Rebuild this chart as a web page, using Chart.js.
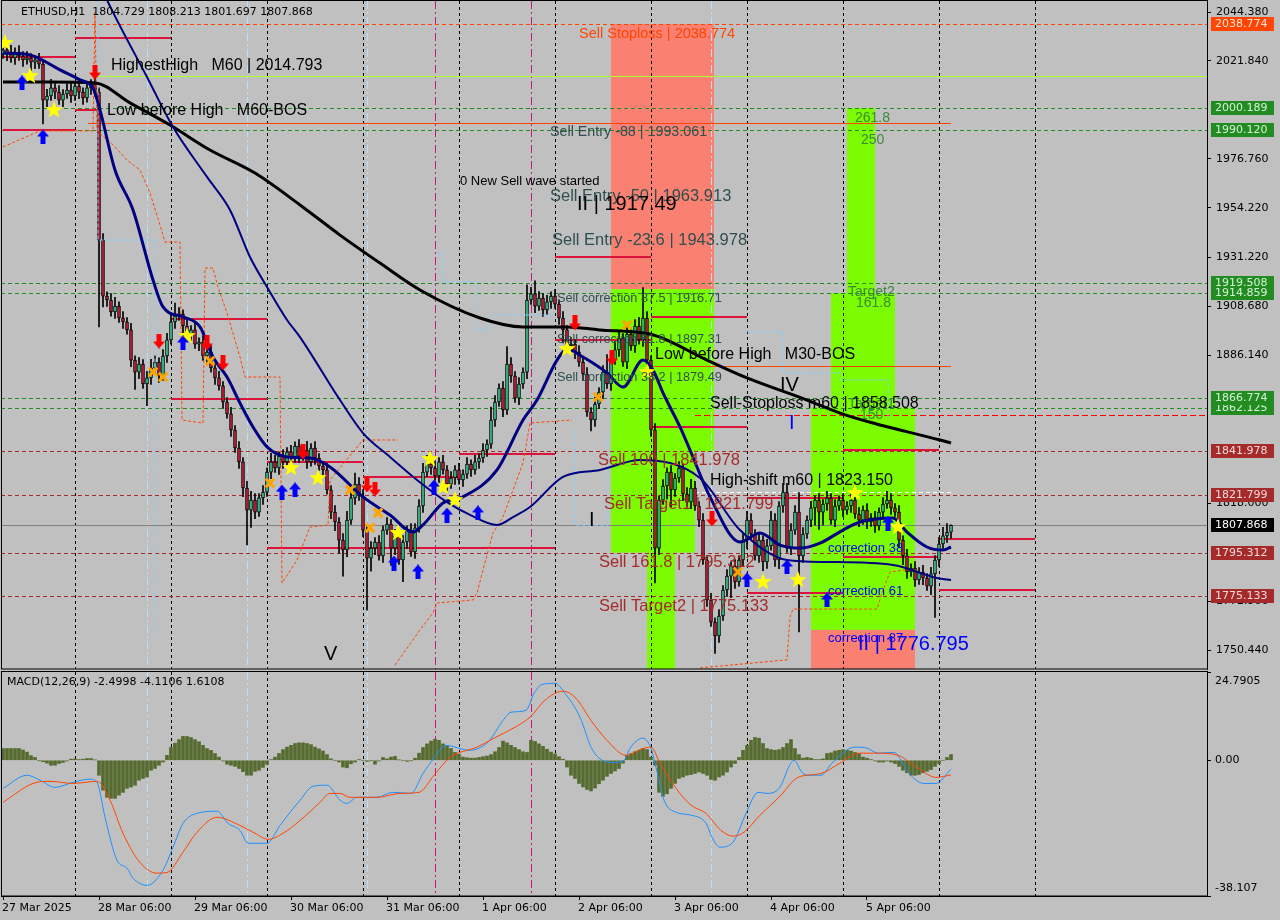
<!DOCTYPE html>
<html lang="en">
<head>
<meta charset="UTF-8">
<title>ETHUSD,H1</title>
<script src="https://cdn.jsdelivr.net/npm/chart.js"></script>
<style>
  html, body { margin: 0; padding: 0; background: #c0c0c0; }
  #wrap { position: relative; width: 1280px; height: 920px; overflow: hidden; }
  #priceBox { position: absolute; left: 0; top: 0; width: 1280px; height: 670px; }
  #macdBox { position: absolute; left: 0; top: 670px; width: 1280px; height: 250px; }
</style>
</head>
<body>
<div id="wrap">
  <div id="priceBox"><canvas id="priceChart" width="1280" height="670"></canvas></div>
  <div id="macdBox"><canvas id="macdChart" width="1280" height="250"></canvas></div>
</div>
<script>
// ---- data (H1 bars, index 0 = 27 Mar 2025 06:00) ----
const firstOpen = 2025.0;
const closes = [
  2026.9, 2025.0, 2023.2, 2025.9, 2024.1, 2022.3, 2023.2, 2021.3, 2022.3, 2020.4,
  2003.8, 2005.7, 2009.4, 2007.5, 2003.8, 2006.6, 2008.4, 2005.7, 2010.3, 2007.5,
  2004.8, 2009.4, 2011.2, 2007.5, 1939.3, 1913.5, 1911.7, 1906.2, 1908.9, 1903.4,
  1901.6, 1897.9, 1884.0, 1878.5, 1882.2, 1873.0, 1875.8, 1880.4, 1883.1, 1876.7,
  1885.9, 1893.3, 1901.6, 1904.3, 1905.2, 1899.7, 1896.0, 1897.9, 1891.4, 1892.3,
  1885.9, 1887.7, 1880.4, 1875.8, 1872.1, 1864.7, 1859.2, 1851.8, 1843.5, 1837.1,
  1825.1, 1814.9, 1819.5, 1814.0, 1820.5, 1823.2, 1832.4, 1837.1, 1834.3, 1839.8,
  1837.1, 1841.7, 1838.9, 1844.4, 1839.8, 1842.6, 1837.1, 1843.5, 1838.9, 1835.2,
  1833.4, 1824.2, 1814.0, 1809.4, 1801.1, 1796.5, 1810.3, 1820.5, 1826.9, 1821.4,
  1805.7, 1792.8, 1797.4, 1800.2, 1793.8, 1805.7, 1808.5, 1797.4, 1803.0, 1791.9,
  1800.2, 1805.7, 1795.6, 1806.7, 1816.8, 1832.4, 1836.1, 1834.3, 1830.6, 1837.1,
  1833.4, 1826.9, 1829.7, 1833.4, 1828.8, 1831.5, 1836.1, 1833.4, 1837.1, 1838.9,
  1842.6, 1845.3, 1856.4, 1864.7, 1871.1, 1861.0, 1882.2, 1876.7, 1866.5, 1873.0,
  1878.5, 1911.7, 1914.5, 1908.9, 1912.6, 1907.1, 1910.8, 1913.5, 1909.8, 1903.4,
  1897.9, 1890.5, 1891.4, 1887.7, 1883.1, 1877.6, 1860.1, 1856.4, 1863.8, 1869.3,
  1878.5, 1873.0, 1884.0, 1888.7, 1894.2, 1883.1, 1896.0, 1890.5, 1899.7, 1893.3,
  1903.4, 1884.0, 1851.8, 1797.4, 1819.5, 1826.0, 1832.4, 1824.2, 1829.7, 1834.3,
  1822.3, 1818.6, 1825.1, 1816.8, 1810.3, 1791.9, 1773.5, 1763.3, 1756.9, 1766.1,
  1778.1, 1784.5, 1789.1, 1781.8, 1791.9, 1801.1, 1810.3, 1803.9, 1793.8, 1801.1,
  1791.0, 1798.4, 1810.3, 1791.9, 1816.8, 1823.2, 1797.4, 1805.7, 1814.0, 1793.8,
  1803.9, 1810.3, 1815.9, 1819.5, 1814.0, 1817.7, 1820.5, 1810.3, 1816.8, 1819.5,
  1814.9, 1816.8, 1819.5, 1813.1, 1810.3, 1814.9, 1809.4, 1811.3, 1807.6, 1814.0,
  1817.7, 1819.5, 1815.9, 1814.0, 1801.1, 1793.8, 1786.4, 1788.2, 1782.7, 1786.4,
  1783.6, 1779.9, 1785.5, 1791.9, 1799.3, 1803.0, 1804.7, 1807.868
];
// wick length above / below the body, USD
const wickUp = [
  3,2,4,2,3,2,3,2,2,3, 2,3,4,2,3,2,3,4,2,3, 2,3,2,3,2,3,2,3,4,2, 3,2,3,2,3,2,3,4,3,2,
  3,3,4,6,3,2,3,2,3,2, 3,2,3,2,3,2,2,3,2,3, 2,3,4,3,2,3,2,4,3,2, 3,2,3,2,3,2,4,2,3,2,
  2,3,2,3,2,3,4,3,5,3, 3,2,3,2,3,2,3,2,3,2, 3,2,3,2,3,4,4,4,3,2, 3,2,3,2,3,2,3,2,3,2,
  3,2,6,3,2,3,8,3,2,3, 2,7,3,6,3,2,3,2,3,2, 3,2,3,2,3,2,3,2,3,2, 3,8,3,4,3,2,3,2,3,4,
  14,3,2,3,2,3,2,3,2,3, 2,3,4,3,2,3,2,3,2,3, 2,3,2,3,2,3,4,3,2,3, 2,3,4,3,2,4,4,3,3,9,
  3,2,3,2,3,2,3,2,3,2, 3,2,3,2,3,2,3,2,3,2, 3,4,3,2,3,2,3,2,3,2, 3,2,3,2,3,4,4,0.3
];
const wickDn = [
  2,3,2,3,2,3,2,4,3,2, 11,3,2,3,2,3,2,3,2,3, 3,2,3,2,40,5,3,2,3,2, 3,2,3,8,3,2,10,3,2,3,
  2,3,2,3,2,3,2,3,2,3, 2,3,2,3,2,3,2,3,2,3, 4,16,8,3,2,3,2,3,2,3, 3,2,3,2,3,2,3,2,3,2,
  3,2,3,4,6,12,3,2,3,2, 3,24,6,3,2,3,2,8,3,2, 10,3,2,3,2,3,2,3,2,3, 2,3,2,3,2,3,2,3,2,3,
  2,3,2,3,2,3,2,3,2,3, 2,3,2,3,2,3,2,3,2,3, 6,3,2,3,2,3,2,5,3,2, 3,2,3,2,3,2,3,2,3,2,
  3,2,3,16,3,2,6,8,3,2, 3,2,3,2,3,2,3,2,8,3, 2,3,10,3,2,3,4,3,2,3, 4,3,2,3,4,3,2,3,2,35,
  3,2,3,8,8,6,3,2,3,2, 3,2,3,2,3,2,3,2,3,2, 3,2,3,2,3,4,3,2,3,2, 3,2,4,20,3,2,3,3.0
];

// moving averages: [bar index, price]
const slowMa = [[0,2012.1],[11.75,2012.1],[23,2011.7],[31.75,2002.5],[41.75,1992.3],[51.75,1980.8],[63,1970.2],
  [74.25,1955.5],[84.25,1941.6],[94.25,1928.7],[104.25,1916.3],[119.25,1903.4],[130,1899.3],[141,1899.3],
  [149.25,1897.9],[161.75,1896.0],[176,1884.0],[186,1875.8],[201,1865.6],[209.25,1859.6],[217.5,1855.0],
  [234.25,1847.2],[237,1845.8]];
const fastMa = [[0,2025.5],[6.75,2024.6],[14.25,2017.7],[19.25,2013.1],[22.5,2009.4],[24.25,1999.2],[28,1971.6],
  [32.5,1953.2],[37.5,1920.9],[40,1908.5],[45,1903.9],[49.25,1899.3],[52.5,1885.4],[56,1876.2],[59.25,1864.2],
  [62.5,1853.2],[66,1844.0],[71,1839.4],[76.75,1838.9],[81.75,1834.8],[90,1821.0],[96.75,1812.6],[102.5,1804.8],
  [105,1808.1],[110,1818.2],[115,1821.0],[123.5,1833.4],[130,1856.4],[133.5,1865.6],[138.5,1884.0],[141,1889.1],
  [145,1885.4],[151,1878.1],[155,1871.6],[160,1884.0],[162.5,1879.4],[165,1868.9],[169.25,1853.2],[171.75,1842.6],
  [176.75,1821.0],[184.25,1800.2],[189.25,1804.4],[194.25,1798.8],[199.25,1797.4],[204.25,1799.7],[210,1805.7],
  [214.25,1809.4],[222.5,1811.3],[226,1804.8],[231,1797.9],[235,1796.5],[237,1797.9]];
const midMa = [[20,2075.0],[26,2049.9],[36,2014.4],[42.5,1991.4],[51,1968.4],[56.75,1953.2],[61.75,1931.5],
  [66,1917.7],[71,1902.5],[74.25,1894.6],[84.25,1865.6],[90,1850.4],[96.75,1839.4],[103.5,1828.8],[111,1818.6],
  [116.75,1812.7],[123.5,1808.0],[127.5,1811.7],[131.75,1816.3],[140,1830.2],[149.25,1833.4],[159.25,1838.0],
  [174.25,1829.7],[184.25,1805.7],[196,1791.9],[206,1791.0],[222.5,1789.6],[233.5,1783.6],[237,1782.7]];

// stepped trailing bands (dashed): [bar index, price]
const bandUpper = [[0,1982.2],[9.25,1989.6],[22.5,1989.6],[23,2044.4],[23.5,1989.6],[27.5,1983.1],[31,1976.2],
  [34.25,1971.6],[36.75,1961.0],[39.25,1946.2],[40.5,1938.4],[44.25,1938.4],[44.75,1856.4],[50,1855.0],
  [50.5,1926.4],[52.5,1926.4],[53.75,1917.7],[56,1905.7],[59.25,1885.4],[60.5,1876.2],[69.25,1876.2],
  [69.75,1781.3],[73.5,1791.9],[76.75,1807.1],[81.25,1808.0],[81.75,1828.8],[90,1847.2],[98.75,1847.2]];
const bandLower = [[98,1743.5],[104.25,1759.7],[107.5,1767.5],[108.5,1772.1],[117.5,1773.5],[118.5,1776.7],
  [120,1787.3],[122.5,1804.4],[125,1811.7],[130,1836.6],[131.75,1855.0],[142.25,1856.4]];
const bandLate = [[174.25,1742.2],[196,1745.9],[196.75,1765.7],[197.5,1769.3],[218.5,1769.3],[219.75,1776.7],
  [221.75,1786.4],[225.5,1787.3]];
const boxTrailA = [[23.75,2052],[23.75,1939.3],[38,1939.3],[38,1755.1]];
const boxTrailB = [[108.5,1933.3],[110,1933.3],[110,1920.0],[118.5,1920.0],[118.5,1897.9],[121.75,1897.9],
  [121.75,1904.8],[137.5,1904.8]];
const boxTrailC = [[186,1897.0],[195,1897.0],[195,1878.1],[209.25,1878.1],[209.25,1874.8],[221.25,1874.8],[221.25,1856.4]];
const boxTrailD = [[143,1851.8],[143,1808.0],[151.25,1808.0],[151.25,1851.8]];

// MACD(12,26,9)
const macdHist = [
  3.3,3.3,3.3,3.3,3.3,2.9,2.3,1.3,0.8,-0.1, -0.4,-0.8,-1.4,-1.4,-0.9,-0.6,-0.2,0.3,0.4,0.2,
  0.3,0.5,0.5,0.1,-4.2,-8.4,-10.4,-10.7,-10.7,-9.8, -9.0,-7.9,-7.5,-7.0,-5.6,-5.1,-4.7,-2.8,-2.3,-1.4,
  -0.5,1.4,3.6,4.8,5.8,6.7,6.7,6.4,5.8,5.2, 4.2,3.3,2.8,1.9,0.9,-0.2,-1.1,-1.4,-1.7,-2.3,
  -3.2,-4.2,-4.2,-3.1,-2.8,-2.0,-1.1,0.2,0.9,1.9, 3.0,3.7,4.2,4.7,4.9,4.9,4.7,4.4,3.7,3.2,
  2.6,1.6,0.4,0.0,-0.5,-1.9,-2.1,-1.0,-0.5,0.2, 0.0,-0.3,-0.1,-1.1,-0.2,0.8,0.4,0.9,1.1,0.1,
  0.0,-0.3,-0.1,0.6,2.0,3.6,4.6,5.4,5.9,5.6, 4.6,4.0,3.3,2.2,1.7,0.9,0.7,0.6,0.6,0.8,
  1.0,1.2,1.6,2.4,3.6,5.4,4.9,4.2,3.6,3.0, 2.4,2.2,5.6,5.3,4.6,3.9,3.1,2.3,1.8,1.0,
  0.3,-1.9,-4.2,-5.1,-6.5,-7.5,-8.2,-8.6,-7.8,-6.6, -5.6,-4.5,-3.7,-3.0,-2.3,-0.8,1.4,1.9,2.4,2.8,
  3.3,3.0,0.9,-1.4,-9.0,-10.1,-9.4,-7.9,-6.5,-5.1, -4.7,-4.2,-4.0,-3.7,-3.3,-3.7,-4.2,-5.4,-5.6,-4.7,
  -4.2,-3.3,-1.9,-0.9,0.8,2.8,4.2,5.6,6.4,6.2, 4.7,3.3,3.0,2.8,3.0,3.6,4.7,5.8,3.3,1.6,
  0.6,0.8,0.6,0.2,0.2,0.4,1.9,2.1,2.6,2.8, 3.0,2.8,2.6,2.2,1.9,0.9,0.6,0.2,-0.2,-0.5,
  -0.5,-0.2,-0.5,-0.9,-1.7,-2.8,-3.5,-4.2,-4.2,-4.0, -3.5,-3.1,-2.6,-1.7,-0.9,0.0,0.8,1.6108
];
const macdMain = [[0,-7.9],[6,-4.2],[9.25,-5.6],[13,-7.6],[17.5,-6.2],[21.75,-5.3],[23.5,-6.2],[25.5,-16.0],
  [28.5,-28.1],[31,-30.3],[32.5,-33.1],[36,-35.1],[40,-30.9],[42.5,-24.4],[45,-17.7],[48.5,-14.9],[53.5,-14.3],
  [56.25,-17.7],[59.25,-19.7],[61.25,-23.3],[66,-23.3],[69.25,-18.3],[74.25,-11.2],[77.5,-7.3],[81,-7.0],
  [84.25,-11.2],[86,-12.1],[88.5,-10.4],[93.5,-10.4],[97.5,-9.0],[102,-9.3],[105,-3.7],[107.75,0.6],[110.75,4.2],
  [116.5,2.8],[121.25,5.1],[125,11.2],[127,13.5],[130.75,14.0],[132.75,18.8],[134.75,21.3],[138,21.6],
  [140.5,18.8],[144.25,12.1],[147,3.7],[149,0.6],[152.75,-0.6],[155.25,0],[156.75,3.4],[160,6.2],[162,3.4],
  [163.25,-2.0],[165.25,-11.2],[168.25,-14.6],[172,-15.4],[175.75,-17.7],[177.25,-21.6],[179.25,-24.4],
  [182.5,-23.0],[185.75,-14.9],[188.75,-9.0],[191,-9.3],[194,-7.9],[197.75,0.0],[199.75,-3.4],[201.5,-4.2],
  [204.5,-4.2],[207.25,-0.8],[213,3.7],[216,3.4],[218.75,2.0],[222.75,2.2],[226.5,-3.7],[230.25,-6.5],
  [233.25,-6.5],[237,-2.4998]];
const macdSignal = [[0,-11.8],[7.5,-6.5],[11.75,-5.9],[17.5,-6.5],[23.5,-5.9],[26.75,-11.2],[30,-20.5],
  [34.25,-28.7],[38.5,-31.7],[41,-31.5],[45,-25.8],[48.5,-20.2],[53.5,-16.0],[59.25,-18.3],[63,-20.5],
  [66.25,-22.2],[70,-20.5],[74.25,-16.9],[79.25,-11.8],[81.75,-9.3],[84.25,-9.3],[86.75,-10.4],[93.5,-10.4],
  [99.25,-9.3],[104,-9.0],[107.75,-4.2],[111.75,0.8],[118.5,3.7],[123.25,6.5],[128,9.3],[131.75,12.1],
  [135.5,16.9],[140,19.4],[143.25,17.4],[147,11.2],[151,5.6],[155.75,1.4],[159.5,3.1],[162,3.7],[164.25,-0.8],
  [168.25,-7.9],[172,-12.6],[175.75,-14.9],[179.5,-19.7],[182.5,-21.3],[185.25,-20.2],[189.25,-15.4],
  [194,-10.4],[198.75,-4.8],[204.5,-3.7],[209.25,-0.8],[214,2.0],[218.75,2.0],[223.75,1.4],[228.5,-2.0],
  [233.25,-4.8],[237,-4.1106]];

// axis
const priceTicks = [2044.38, 2021.84, 1976.76, 1954.22, 1931.22, 1908.68, 1886.14, 1818.0, 1772.9, 1750.44];
const macdTicks = [24.7905, 0, -38.107];
const macdTickText = ['24.7905', '0.00', '-38.107'];
const timeTickIdx = [0, 24, 48, 72, 96, 120, 144, 168, 192, 216];
const timeLabels = ['27 Mar 2025', '28 Mar 06:00', '29 Mar 06:00', '30 Mar 06:00', '31 Mar 06:00',
  '1 Apr 06:00', '2 Apr 06:00', '3 Apr 06:00', '4 Apr 06:00', '5 Apr 06:00'];

// price levels shown on the axis
const levelPrices = [2038.774, 2000.189, 1990.12, 1919.508, 1914.859, 1862.125, 1866.774, 1841.978, 1821.799, 1795.312, 1775.133];
const levelKinds = ['stop', 'target', 'target', 'target', 'target', 'target', 'target', 'sell', 'sell', 'sell', 'sell'];
const lastPrice = 1807.868;

// zones: [from bar, to bar, upper price, lower price, kind]
const zones = [
  [152, 177.75, 2038.774, 1916.71, 'stop'],
  [152, 177.75, 1916.71, 1841.978, 'target'],
  [152, 173, 1841.978, 1795.312, 'target'],
  [161, 168, 1795.312, 1700, 'target'],
  [211, 218, 2000.189, 1914.859, 'target'],
  [207, 223, 1914.859, 1862.125, 'target'],
  [202, 228, 1862.125, 1759.7, 'target'],
  [202, 228, 1759.7, 1700, 'stop']
];
// swing boxes: [from bar, to bar, price]
const swings = [
  [0, 18, 2023.6], [0, 18, 1990.0], [18, 42, 2032.4], [18, 24, 1999.2],
  [42, 66, 1903.0], [42, 66, 1866.1], [66, 90, 1837.1], [90, 114, 1830.2],
  [114, 138, 1840.8], [66, 138, 1797.5], [138, 162, 1931.5], [138, 162, 1893.3],
  [162, 186, 1903.9], [162, 186, 1853.2], [186, 210, 1820.5], [186, 210, 1776.7],
  [210, 234, 1842.6], [210, 234, 1793.3], [234, 258, 1801.6], [234, 258, 1778.1]
];
// other lines: [from bar, to bar, price, kind]
const marks = [
  [23, 301, 2014.793, 'highest'],
  [21.25, 237, 1993.061, 'bos'],
  [162.5, 237, 1881.3, 'bos'],
  [173, 301, 1858.508, 'stopline'],
  [173, 237, 1823.15, 'shift']
];
const gridIdx = [18, 42, 66, 90, 114, 138, 162, 186, 210, 234, 258];
const cyanIdx = [36, 61, 91, 177];
const magentaIdx = [108, 132];

// signals
const stars = [[0.5,2030.1],[6.75,2014.9],[12.75,1999.2],[46,1895.1],[72,1834.3],[78.75,1829.7],[98.75,1804.4],
  [106.75,1838.4],[110,1825.5],[113,1819.6],[141,1889.1],[161,1878.5],[190,1781.8],[198.75,1782.7],[213,1822.8],[223.75,1807.1]];
const buyArrows = [[4.75,2011.7],[10,1986.8],[45,1891.9],[69.75,1823.2],[73,1824.2],[97.75,1790.5],[103.75,1786.4],
  [107.75,1825.5],[111,1812.6],[118.75,1813.6],[186,1782.7],[196,1788.7],[206,1773.5],[221.25,1808.9]];
const sellArrows = [[23,2016.7],[39,1892.8],[51,1891.9],[55,1882.7],[75,1841.7],[91,1826.5],[93,1824.6],
  [143,1901.1],[152.25,1885.0],[177.25,1810.8]];
const crosses = [[37.5,1878.5],[40,1876.2],[51.75,1883.6],[66.75,1827.4],[86.75,1824.2],[93.75,1813.6],
  [91.75,1806.7],[148.75,1867.0],[156,1900.2],[183.75,1786.4]];

// text notes: [text, bar, price, kind]
const notes = [
  ['HighestHigh   M60 | 2014.793', 27, 2019.9, 'black'],
  ['Low before High   M60-BOS', 26, 1998.8, 'black'],
  ['Sell Stoploss | 2038.774', 144, 2034.2, 'stop'],
  ['Sell Entry -88 | 1993.061', 136.75, 1989.1, 'slate14'],
  ['0 New Sell wave started', 114.25, 1966.1, 'small'],
  ['Sell Entry -50 | 1963.913', 136.75, 1959.2, 'slate'],
  ['II | 1917.49', 143.5, 1955.5, 'wave'],
  ['Sell Entry -23.6 | 1943.978', 137.25, 1939.3, 'slate'],
  ['Sell correction 87.5 | 1916.71', 138.5, 1912.6, 'slate11'],
  ['Sell correction 61.8 | 1897.31', 138.5, 1893.3, 'slate11'],
  ['Sell correction 38.2 | 1879.49', 138.5, 1875.8, 'slate11'],
  ['261.8', 213, 1995.5, 'green'],
  ['250', 214.5, 1985.4, 'green'],
  ['Target2', 211.25, 1915.4, 'green'],
  ['161.8', 213.25, 1910.3, 'green'],
  ['Target1', 211.25, 1863.8, 'green'],
  ['150', 214.25, 1858.7, 'green'],
  ['Low before High   M30-BOS', 163, 1886.4, 'black'],
  ['IV', 194.25, 1872.5, 'wave'],
  ['Sell-Stoploss m60 | 1858.508', 176.75, 1863.8, 'black'],
  ['Sell 100 | 1841.978', 148.75, 1838.0, 'brown'],
  ['High-shift m60 | 1823.150', 176.75, 1828.3, 'black'],
  ['Sell Target1 | 1821.799', 150.25, 1817.3, 'brown'],
  ['Sell 161.8 | 1795.312', 149, 1791.0, 'brown'],
  ['Sell Target2 | 1775.133', 149, 1770.7, 'brown'],
  ['correction 38', 206.25, 1797.4, 'blue'],
  ['correction 61', 206.25, 1777.6, 'blue'],
  ['correction 87', 206.25, 1756.0, 'blue'],
  ['II | 1776.795', 213.75, 1752.8, 'waveBlue'],
  ['V', 80.25, 1748.2, 'wave'],
  ['I', 146.5, 1809.9, 'wave'],
  ['I', 196.5, 1855.0, 'waveBlue']
];

// ---- styles ----
const BULL = '#3dcc8e', BEAR = '#cc1f3a';
const SALMON = '#fa8072', LIME = '#7cfc00';
const AXIS_FONT = '11px "DejaVu Sans"';
const noteStyle = {
  black:    ['16px "Liberation Sans"', '#000000'],
  stop:     ['14.5px "Liberation Sans"', '#ff4500'],
  slate14:  ['14.3px "Liberation Sans"', '#2f4f4f'],
  slate:    ['16.5px "Liberation Sans"', '#2f4f4f'],
  slate11:  ['12.7px "Liberation Sans"', '#2f4f4f'],
  small:    ['13px "Liberation Sans"', '#000000'],
  wave:     ['20px "Liberation Sans"', '#000000'],
  waveBlue: ['20px "Liberation Sans"', '#0000ff'],
  green:    ['14px "Liberation Sans"', '#3a8a3a'],
  brown:    ['16.5px "Liberation Sans"', '#a52a2a'],
  blue:     ['13px "Liberation Sans"', '#0000ff']
};
const levelStyle = {
  stop:   { line: '#ff4500', box: '#ff4500', text: '#ffe2d6' },
  target: { line: '#228b22', box: '#228b22', text: '#d4f4d4' },
  sell:   { line: '#a52a2a', box: '#a52a2a', text: '#f4dada' }
};
const markStyle = {
  highest:  { color: '#adff2f', dash: [] },
  bos:      { color: '#ff4500', dash: [] },
  stopline: { color: '#ff0000', dash: [6, 3] },
  shift:    { color: '#ffffff', dash: [4, 3] }
};

// ---- marker glyphs ----
function starGlyph(r, color) {
  const c = document.createElement('canvas');
  c.width = c.height = 2 * r + 2;
  const g = c.getContext('2d');
  g.fillStyle = color;
  g.beginPath();
  for (let k = 0; k < 10; k++) {
    const rad = k % 2 ? r * 0.42 : r;
    const ang = -Math.PI / 2 + k * Math.PI / 5;
    g.lineTo(r + 1 + rad * Math.cos(ang), r + 1 + rad * Math.sin(ang));
  }
  g.closePath();
  g.fill();
  return c;
}
function arrowGlyph(color, down) {
  const c = document.createElement('canvas');
  c.width = 12; c.height = 15;
  const g = c.getContext('2d');
  if (down) { g.translate(0, 15); g.scale(1, -1); }
  g.fillStyle = color;
  g.beginPath();
  g.moveTo(6, 0); g.lineTo(12, 7); g.lineTo(8.5, 7); g.lineTo(8.5, 15);
  g.lineTo(3.5, 15); g.lineTo(3.5, 7); g.lineTo(0, 7);
  g.closePath();
  g.fill();
  return c;
}

// ---- candles ----
const bars = closes.map((c, i) => {
  const o = i ? closes[i - 1] : firstOpen;
  return { o, c, h: Math.max(o, c) + wickUp[i], l: Math.min(o, c) - wickDn[i] };
});
const pts = arr => arr.map(([x, y]) => ({ x, y }));

// ---- shared drawing helpers ----
function clipArea(ctx, a) {
  ctx.beginPath();
  ctx.rect(a.left, a.top, a.right - a.left, a.bottom - a.top);
  ctx.clip();
}
function vLine(ctx, x, a, color, dash) {
  ctx.strokeStyle = color;
  ctx.setLineDash(dash);
  ctx.beginPath();
  ctx.moveTo(Math.round(x) + 0.5, a.top);
  ctx.lineTo(Math.round(x) + 0.5, a.bottom);
  ctx.stroke();
}
function drawVerticals(chart) {
  const { ctx, chartArea: a, scales: { x } } = chart;
  ctx.lineWidth = 1;
  gridIdx.forEach(i => vLine(ctx, x.getPixelForValue(i), a, '#000000', [3, 3]));
  cyanIdx.forEach(i => vLine(ctx, x.getPixelForValue(i), a, '#b4e4f4', [8, 3, 2, 3]));
  magentaIdx.forEach(i => vLine(ctx, x.getPixelForValue(i), a, '#c71585', [8, 3, 2, 3]));
  ctx.setLineDash([]);
}
function drawFrame(chart) {
  const { ctx, chartArea: a } = chart;
  ctx.save();
  ctx.strokeStyle = '#000000';
  ctx.lineWidth = 1;
  ctx.setLineDash([]);
  ctx.strokeRect(a.left + 0.5, a.top - 0.5, a.right - a.left, a.bottom - a.top + 0.5);
  ctx.restore();
}

const priceDecor = {
  id: 'priceDecor',
  beforeDatasetsDraw(chart) {
    const { ctx, chartArea: a, scales: { x, y } } = chart;
    ctx.save();
    clipArea(ctx, a);
    zones.forEach(([i0, i1, hi, lo, kind]) => {
      ctx.fillStyle = kind === 'stop' ? SALMON : LIME;
      const x0 = x.getPixelForValue(i0), x1 = x.getPixelForValue(i1);
      const y0 = y.getPixelForValue(hi), y1 = y.getPixelForValue(lo);
      ctx.fillRect(x0, y0, x1 - x0, y1 - y0);
    });
    drawVerticals(chart);
    ctx.lineWidth = 1;
    levelPrices.forEach((p, k) => {
      const yy = Math.round(y.getPixelForValue(p)) + 0.5;
      ctx.strokeStyle = levelStyle[levelKinds[k]].line;
      ctx.setLineDash([4, 3]);
      ctx.beginPath(); ctx.moveTo(a.left, yy); ctx.lineTo(a.right, yy); ctx.stroke();
    });
    ctx.setLineDash([]);
    const ly = Math.round(y.getPixelForValue(lastPrice)) + 0.5;
    ctx.strokeStyle = '#808080';
    ctx.beginPath(); ctx.moveTo(a.left, ly); ctx.lineTo(a.right, ly); ctx.stroke();
    marks.forEach(([i0, i1, p, kind]) => {
      const st = markStyle[kind];
      const yy = Math.round(y.getPixelForValue(p)) + 0.5;
      ctx.strokeStyle = st.color;
      ctx.setLineDash(st.dash);
      ctx.beginPath(); ctx.moveTo(x.getPixelForValue(i0), yy); ctx.lineTo(x.getPixelForValue(i1), yy); ctx.stroke();
    });
    ctx.setLineDash([]);
    ctx.strokeStyle = '#dc143c';
    ctx.lineWidth = 2;
    swings.forEach(([i0, i1, p]) => {
      const yy = Math.round(y.getPixelForValue(p));
      ctx.beginPath(); ctx.moveTo(x.getPixelForValue(i0), yy); ctx.lineTo(x.getPixelForValue(i1), yy); ctx.stroke();
    });
    ctx.restore();
  },
  afterDatasetsDraw(chart) {
    const { ctx, chartArea: a, scales: { x, y } } = chart;
    ctx.save();
    clipArea(ctx, a);
    ctx.textAlign = 'left';
    ctx.textBaseline = 'middle';
    notes.forEach(([t, i, p, kind]) => {
      ctx.font = noteStyle[kind][0];
      ctx.fillStyle = noteStyle[kind][1];
      ctx.fillText(t, x.getPixelForValue(i), y.getPixelForValue(p));
    });
    ctx.restore();
  },
  afterDraw(chart) {
    const { ctx, chartArea: a, scales: { y } } = chart;
    drawFrame(chart);
    ctx.save();
    ctx.font = AXIS_FONT;
    ctx.textBaseline = 'middle';
    ctx.textAlign = 'left';
    ctx.fillStyle = '#000000';
    priceTicks.forEach(v => ctx.fillText(v.toFixed(3), a.right + 9, y.getPixelForValue(v)));
    const box = (p, bg, fg) => {
      const yy = Math.round(y.getPixelForValue(p));
      ctx.fillStyle = bg;
      ctx.fillRect(a.right + 4, yy - 7, 63, 14);
      ctx.fillStyle = fg;
      ctx.fillText(p.toFixed(3), a.right + 8, yy);
    };
    levelPrices.forEach((p, k) => {
      const st = levelStyle[levelKinds[k]];
      box(p, st.box, st.text);
    });
    box(lastPrice, '#000000', '#ffffff');
    ctx.fillStyle = '#000000';
    ctx.fillText('ETHUSD,H1  1804.729 1808.213 1801.697 1807.868', 21, 12);
    ctx.restore();
  }
};

const macdDecor = {
  id: 'macdDecor',
  beforeDatasetsDraw(chart) {
    const { ctx, chartArea: a } = chart;
    ctx.save();
    clipArea(ctx, a);
    drawVerticals(chart);
    ctx.restore();
  },
  afterDraw(chart) {
    const { ctx, chartArea: a, scales: { x, y } } = chart;
    drawFrame(chart);
    ctx.save();
    ctx.font = AXIS_FONT;
    ctx.fillStyle = '#000000';
    ctx.textBaseline = 'middle';
    ctx.textAlign = 'left';
    ctx.fillText('MACD(12,26,9) -2.4998 -4.1106 1.6108', 7, 12);
    macdTicks.forEach((v, k) => {
      const yy = Math.min(Math.max(y.getPixelForValue(v), a.top + 9), a.bottom - 8);
      ctx.fillText(macdTickText[k], a.right + 8, yy);
    });
    timeTickIdx.forEach((v, k) => ctx.fillText(timeLabels[k], x.getPixelForValue(v) - 1, a.bottom + 12));
    ctx.restore();
  }
};

const fixWidth = s => { s.width = 73; };
const dashLine = (data, color, dash) => ({
  type: 'line', data: pts(data), borderColor: color, borderWidth: 1, borderDash: dash,
  pointRadius: 0, tension: 0, order: 15
});
const tickGrid = { drawOnChartArea: false, drawTicks: true, tickLength: 4, color: '#000000', offset: false };

new Chart(document.getElementById('priceChart'), {
  type: 'bar',
  data: {
    datasets: [
      dashLine(bandUpper, '#ff4500', [3, 2]),
      dashLine(bandLower, '#ff4500', [3, 2]),
      dashLine(bandLate, '#ff4500', [3, 2]),
      dashLine(boxTrailA, '#87cefa', [4, 2]),
      dashLine(boxTrailB, '#87cefa', [4, 2]),
      dashLine(boxTrailC, '#87cefa', [4, 2]),
      dashLine(boxTrailD, '#87cefa', [4, 2]),
      { type: 'bar', data: bars.map((b, i) => ({ x: i, y: [b.l, b.h] })), backgroundColor: '#000000',
        barThickness: 1, grouped: false, order: 20 },
      { type: 'bar', data: bars.map((b, i) => ({ x: i, y: [b.o, b.c] })),
        backgroundColor: bars.map(b => b.c >= b.o ? BULL : BEAR), borderColor: '#000000', borderWidth: 1,
        borderSkipped: false, barThickness: 3, minBarLength: 1, grouped: false, order: 19 },
      { type: 'line', data: pts(slowMa), borderColor: '#000000', borderWidth: 3, pointRadius: 0,
        cubicInterpolationMode: 'monotone', order: 10 },
      { type: 'line', data: pts(midMa), borderColor: '#000080', borderWidth: 2, pointRadius: 0,
        cubicInterpolationMode: 'monotone', order: 9 },
      { type: 'line', data: pts(fastMa), borderColor: '#000080', borderWidth: 3, pointRadius: 0,
        cubicInterpolationMode: 'monotone', order: 8 },
      { type: 'scatter', data: pts(crosses), pointStyle: 'crossRot', radius: 6, borderWidth: 3,
        borderColor: '#ffa500', order: 4 },
      { type: 'scatter', data: pts(stars), pointStyle: starGlyph(9, '#ffff00'), order: 3 },
      { type: 'scatter', data: pts(buyArrows), pointStyle: arrowGlyph('#0000ff', false), order: 2 },
      { type: 'scatter', data: pts(sellArrows), pointStyle: arrowGlyph('#ff0000', true), order: 1 }
    ]
  },
  options: {
    responsive: false, animation: false, devicePixelRatio: 1, events: [],
    layout: { autoPadding: false, padding: { left: 1, top: 1, right: 0, bottom: 1 } },
    plugins: { legend: { display: false }, tooltip: { enabled: false } },
    scales: {
      x: { type: 'linear', min: -0.5, max: 301, offset: false, display: false, grid: { offset: false } },
      y: {
        position: 'right', min: 1741.69, max: 2049.45,
        afterBuildTicks: s => { s.ticks = priceTicks.map(v => ({ value: v })); },
        afterFit: fixWidth,
        ticks: { display: false },
        grid: tickGrid,
        border: { display: true, color: '#000000' }
      }
    }
  },
  plugins: [priceDecor]
});

new Chart(document.getElementById('macdChart'), {
  type: 'bar',
  data: {
    datasets: [
      { type: 'bar', data: macdHist.map((v, i) => ({ x: i, y: v })), backgroundColor: '#556b2f',
        barThickness: 3, grouped: false, order: 5 },
      { type: 'line', data: pts(macdMain), borderColor: '#1e90ff', borderWidth: 1, pointRadius: 0,
        cubicInterpolationMode: 'monotone', order: 2 },
      { type: 'line', data: pts(macdSignal), borderColor: '#ff4500', borderWidth: 1, pointRadius: 0,
        cubicInterpolationMode: 'monotone', order: 1 }
    ]
  },
  options: {
    responsive: false, animation: false, devicePixelRatio: 1, events: [],
    layout: { autoPadding: false, padding: { left: 1, top: 2, right: 0, bottom: 0 } },
    plugins: { legend: { display: false }, tooltip: { enabled: false } },
    scales: {
      x: {
        type: 'linear', min: -0.5, max: 301, offset: false, position: 'bottom',
        afterBuildTicks: s => { s.ticks = timeTickIdx.map(v => ({ value: v })); },
        afterFit: s => { s.height = 24; },
        ticks: { display: false },
        grid: tickGrid,
        border: { display: true, color: '#000000' }
      },
      y: {
        position: 'right', min: -38.107, max: 24.7905,
        afterBuildTicks: s => { s.ticks = macdTicks.map(v => ({ value: v })); },
        afterFit: fixWidth,
        ticks: { display: false },
        grid: tickGrid,
        border: { display: true, color: '#000000' }
      }
    }
  },
  plugins: [macdDecor]
});
</script>
</body>
</html>
